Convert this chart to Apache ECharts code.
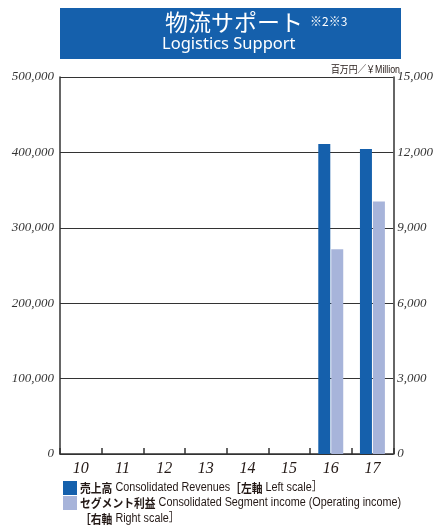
<!DOCTYPE html>
<html><head><meta charset="utf-8">
<script src="https://cdn.jsdelivr.net/npm/echarts@6/dist/echarts.min.js"></script>
<style>html,body{margin:0;padding:0;background:#fff}#c{width:436px;height:525px}</style>
</head><body><div id="c"></div>
<script>
const categories = ['10','11','12','13','14','15','16','17'];
const revenues = [null,null,null,null,null,null,411000,404500];
const segmentIncome = [null,null,null,null,null,null,8150,10050];
const leftTicks = {min:0,max:500000,interval:100000};
const rightTicks = {min:0,max:15000,interval:3000};
const seriesNames = ['売上高','セグメント利益'];

const DARK = '#1560ac', LIGHT = '#a7b4da', INK = '#231815';
const serif = "'Liberation Serif','Times New Roman',serif";
const sans = "'Liberation Sans','Noto Sans CJK JP',sans-serif";
const cjk = "'Noto Sans CJK JP','Noto Sans',sans-serif";
const fmt = v => String(v).replace(/\B(?=(\d{3})+(?!\d))/g, ',');
const rich = {
  j:{fontFamily:cjk,fontSize:12,fontWeight:'bold',fill:INK},
  e:{fontFamily:sans,fontSize:12,fill:INK}
};

const chart = echarts.init(document.getElementById('c'), null, {renderer:'canvas'});
chart.setOption({
  animation:false,
  backgroundColor:'#fff',
  grid:{left:60,right:36,top:77,bottom:71,containLabel:false},
  xAxis:{type:'category',data:categories,
    axisLine:{lineStyle:{color:'#333',width:1.5}},
    axisTick:{show:true,inside:true,length:6,interval:0,lineStyle:{color:'#333',width:1.5}},
    axisLabel:{fontFamily:serif,fontStyle:'italic',fontSize:16,color:INK,margin:7}},
  yAxis:[
    {type:'value',min:leftTicks.min,max:leftTicks.max,interval:leftTicks.interval,
     axisLine:{show:true,lineStyle:{color:'#333',width:1.5}},axisTick:{show:false},
     splitLine:{lineStyle:{color:'#333',width:1}},
     axisLabel:{fontFamily:serif,fontStyle:'italic',fontSize:13,color:'#333',margin:6,formatter:fmt}},
    {type:'value',min:rightTicks.min,max:rightTicks.max,interval:rightTicks.interval,
     axisLine:{show:true,lineStyle:{color:'#333',width:1.5}},axisTick:{show:false},
     splitLine:{show:false},
     axisLabel:{fontFamily:serif,fontStyle:'italic',fontSize:13,color:'#333',margin:4,formatter:fmt}}
  ],
  legend:{show:false,data:seriesNames},
  graphic:[
    {type:'rect',left:60,top:8,shape:{width:341,height:51},style:{fill:DARK},silent:true},
    {type:'text',left:165,top:11,style:{text:'物流サポート',fill:'#fff',font:"23px 'Noto Sans CJK JP'"}},
    {type:'text',left:310,top:15,style:{text:'※2※3',fill:'#fff',font:"12px 'Noto Sans CJK JP'"}},
    {type:'text',left:162,top:36,style:{text:'Logistics Support',fill:'#fff',font:"16.5px 'Noto Sans','Open Sans',sans-serif"}},
    {type:'text',x:400,y:75,scaleX:0.88,style:{text:'百万円／￥Million',fill:INK,font:"10px "+sans,align:'right',verticalAlign:'bottom'}},
    {type:'rect',x:63,y:481,shape:{width:14,height:14},style:{fill:DARK}},
    {type:'rect',x:63,y:496,shape:{width:14,height:14},style:{fill:LIGHT}},
    {type:'text',x:80,y:488,scaleX:0.9,style:{rich:rich,verticalAlign:'middle',
      text:'{j|'+seriesNames[0]+'} {e|Consolidated Revenues}{j|［左軸} {e|Left scale］}'}},
    {type:'text',x:80,y:503,scaleX:0.9,style:{rich:rich,verticalAlign:'middle',
      text:'{j|'+seriesNames[1]+'} {e|Consolidated Segment income (Operating income)}'}},
    {type:'text',x:80,y:519,scaleX:0.9,style:{rich:rich,verticalAlign:'middle',
      text:'{j|［右軸} {e|Right scale］}'}}
  ],
  series:[
    {name:seriesNames[0],type:'bar',yAxisIndex:0,data:revenues,barWidth:12,barGap:'8%',itemStyle:{color:DARK}},
    {name:seriesNames[1],type:'bar',yAxisIndex:1,data:segmentIncome,barWidth:12,itemStyle:{color:LIGHT}}
  ]
});
</script></body></html>
